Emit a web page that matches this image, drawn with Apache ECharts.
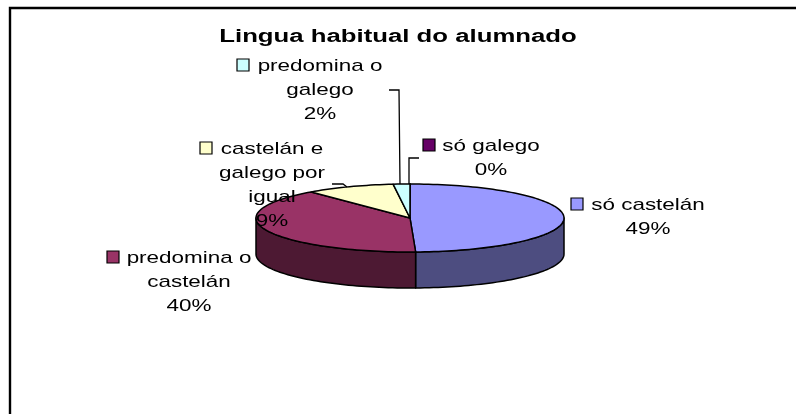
<!DOCTYPE html>
<html>
<head>
<meta charset="utf-8">
<style>
  html, body { margin: 0; padding: 0; background: #fff; }
  #main { width: 796px; height: 414px; }
</style>
<script src="https://cdn.jsdelivr.net/npm/echarts@6/dist/echarts.min.js"></script>
</head>
<body>
<div id="main"></div>
<script>
const categories = ['só galego', 'só castelán', 'predomina o castelán', 'castelán e galego por igual', 'predomina o galego'];
const shares = [0.02, 49.4, 39.5, 9.33, 1.75];

const topColors = ['#660066', '#9999FF', '#993366', '#FFFFCC', '#CCFFFF'];
const sideColors = ['#330033', '#4D4D80', '#4D1933', '#808066', '#668080'];

// label lines as they wrap in the picture, same order as categories
const labelLines = [
  ['só galego'],
  ['só castelán'],
  ['predomina o', 'castelán'],
  ['castelán e', 'galego por', 'igual'],
  ['predomina o', 'galego']
];
// centre x and first line y of each label, then the swatch x
const labelSpots = [
  [491, 146, 423],
  [648, 205, 571],
  [189, 258, 107],
  [272, 149, 200],
  [320, 66, 237]
];
const leaders = [
  [[419, 158], [409, 158], [409, 184]],
  null,
  null,
  [[332, 184], [343, 184], [347, 187]],
  [[389, 90], [399, 90], [400, 184]]
];

const cx = 410, cy = 218, rx = 154, ry = 34, depth = 36;
const fontFamily = '"Liberation Sans", Arial, sans-serif';
const lineGap = 24;
// the original text is stretched sideways
const labelStretch = 1.32, titleStretch = 1.43;

const total = shares.reduce((a, b) => a + b, 0);
const starts = [];
shares.reduce((sum, v, i) => { starts[i] = sum; return sum + v; }, 0);

// angle is measured clockwise from 12 o'clock
function rimPoint(a, drop) {
  return [cx + rx * Math.sin(a), cy - ry * Math.cos(a) + drop];
}

function arcPoints(a0, a1, drop) {
  const steps = Math.max(2, Math.ceil((a1 - a0) / 0.03));
  const pts = [];
  for (let i = 0; i <= steps; i++) {
    pts.push(rimPoint(a0 + (a1 - a0) * i / steps, drop));
  }
  return pts;
}

function renderSlice(params, api) {
  const i = params.dataIndex;
  const a0 = starts[i] / total * 2 * Math.PI;
  const a1 = a0 + api.value(0) / total * 2 * Math.PI;
  const children = [];
  const lineStyle = { stroke: '#000', lineWidth: 1.5, lineJoin: 'round' };

  // wall only shows on the front half
  const w0 = Math.max(a0, Math.PI / 2), w1 = Math.min(a1, 3 * Math.PI / 2);
  if (w1 > w0) {
    const wall = arcPoints(w0, w1, 0).concat(arcPoints(w0, w1, depth).reverse());
    children.push({
      type: 'polygon',
      shape: { points: wall },
      style: Object.assign({ fill: sideColors[i] }, lineStyle)
    });
  }
  children.push({
    type: 'polygon',
    shape: { points: [[cx, cy]].concat(arcPoints(a0, a1, 0)) },
    style: Object.assign({ fill: topColors[i] }, lineStyle)
  });
  return { type: 'group', children: children };
}

function renderLabel(params, api) {
  const i = params.dataIndex;
  const spot = labelSpots[i];
  const lines = labelLines[i].concat(Math.round(api.value(0)) + '%');
  const children = [];

  lines.forEach((line, n) => {
    children.push({
      type: 'text',
      x: spot[0],
      y: spot[1] + n * lineGap,
      scaleX: labelStretch,
      style: {
        x: 0, y: 0,
        text: line, fontFamily: fontFamily, fontSize: 17, fill: '#000',
        align: 'center', verticalAlign: 'middle'
      }
    });
  });
  children.push({
    type: 'rect',
    shape: { x: spot[2], y: spot[1] - 7, width: 12, height: 12 },
    style: { fill: topColors[i], stroke: '#000', lineWidth: 1.2 }
  });
  if (leaders[i]) {
    children.push({
      type: 'polyline',
      shape: { points: leaders[i] },
      style: { fill: null, stroke: '#000', lineWidth: 1.3 }
    });
  }
  return { type: 'group', children: children };
}

const chart = echarts.init(document.getElementById('main'), null, { renderer: 'canvas' });
const sliceData = categories.map((name, i) => ({ name: name, value: [shares[i]] }));

chart.setOption({
  animation: false,
  backgroundColor: '#fff',
  graphic: [{
    type: 'polyline',
    silent: true,
    shape: { points: [[10, 414], [10, 8], [796, 8]] },
    style: { fill: null, stroke: '#000', lineWidth: 2.4 }
  }, {
    type: 'text',
    silent: true,
    x: 398,
    y: 37.5,
    scaleX: titleStretch,
    style: {
      text: 'Lingua habitual do alumnado',
      fontFamily: fontFamily, fontSize: 18, fontWeight: 'bold', fill: '#000',
      align: 'center', verticalAlign: 'middle'
    }
  }],
  series: [
    { type: 'custom', coordinateSystem: 'none', renderItem: renderSlice, data: sliceData, silent: true, z: 2 },
    { type: 'custom', coordinateSystem: 'none', renderItem: renderLabel, data: sliceData, silent: true, z: 3 }
  ]
});
</script>
</body>
</html>
